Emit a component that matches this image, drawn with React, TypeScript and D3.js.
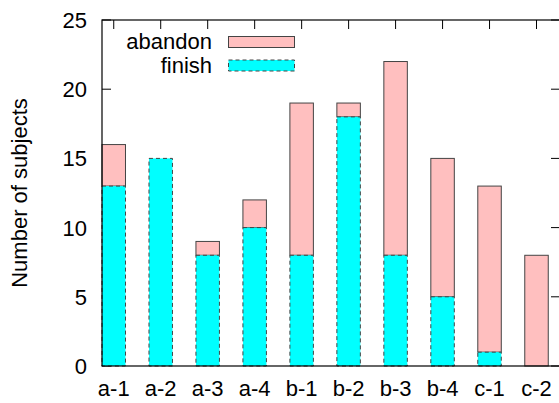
import React from "react";
import * as d3 from "d3";

const categories = ["a-1", "a-2", "a-3", "a-4", "b-1", "b-2", "b-3", "b-4", "c-1", "c-2"];
const finishValues = [13, 15, 8, 10, 8, 18, 8, 5, 1, 0];
const abandonValues = [3, 0, 1, 2, 11, 1, 14, 10, 12, 8];
const yTicks = [0, 5, 10, 15, 20, 25];
const seriesNames = ["abandon", "finish"];

const W = 559;
const H = 403;
const left = 102;
const right = 560;
const top = 20;
const bottom = 366;
const FONT = "'Liberation Sans', Arial, Helvetica, sans-serif";
const PINK = "#ffbfbf";
const CYAN = "#00ffff";
const EDGE = "#444444";

export default function App() {
  const x = d3.scaleLinear().domain([-0.25, 9.5]).range([left, right]);
  const y = d3.scaleLinear().domain([0, 25]).range([bottom, top]);
  const bw = x(0.5) - x(0);
  const tickLen = 9;

  return (
    <svg
      width={W}
      height={H}
      style={{ position: "absolute", left: 0, top: 0, background: "#fff" }}
      fontFamily={FONT}
    >
      {/* ticks */}
      {yTicks.map((t) => (
        <g key={"yt" + t}>
          <line x1={left} x2={left + tickLen} y1={y(t)} y2={y(t)} stroke="#000" strokeWidth={1} />
          <line x1={right - tickLen} x2={right} y1={y(t)} y2={y(t)} stroke="#000" strokeWidth={1} />
          <text x={87} y={y(t)} dy="0.36em" textAnchor="end" fontSize={22} fill="#000">
            {t}
          </text>
        </g>
      ))}
      {categories.map((c, i) => (
        <g key={"xt" + c}>
          <line x1={x(i)} x2={x(i)} y1={top} y2={top + tickLen} stroke="#000" strokeWidth={1} />
          <line x1={x(i)} x2={x(i)} y1={bottom} y2={bottom - tickLen} stroke="#000" strokeWidth={1} />
          <text x={x(i)} y={396} textAnchor="middle" fontSize={22} fill="#000">
            {c}
          </text>
        </g>
      ))}

      {/* bars: abandon first, then finish */}
      {categories.map((c, i) => {
        const f = finishValues[i];
        const a = abandonValues[i];
        if (a <= 0) return null;
        return (
          <rect
            key={"ab" + c}
            x={x(i) - bw / 2}
            y={y(f + a)}
            width={bw}
            height={y(f) - y(f + a)}
            fill={PINK}
            stroke={EDGE}
            strokeWidth={1}
          />
        );
      })}
      {categories.map((c, i) => {
        const f = finishValues[i];
        if (f <= 0) return null;
        return (
          <rect
            key={"fi" + c}
            x={x(i) - bw / 2}
            y={y(f)}
            width={bw}
            height={y(0) - y(f)}
            fill={CYAN}
            stroke={EDGE}
            strokeWidth={1}
            strokeDasharray="4,3"
          />
        );
      })}

      {/* legend */}
      {seriesNames.map((s, k) => (
        <g key={"lg" + s}>
          <text x={212} y={49 + k * 24} textAnchor="end" fontSize={22} fill="#000">
            {s}
          </text>
          <rect
            x={228.5}
            y={36.5 + k * 23.5}
            width={66}
            height={11}
            fill={k === 0 ? PINK : CYAN}
            stroke={EDGE}
            strokeWidth={1}
            strokeDasharray={k === 0 ? undefined : "4,3"}
          />
        </g>
      ))}

      {/* border */}
      <rect x={left} y={top} width={right - left} height={bottom - top} fill="none" stroke="#000" strokeWidth={1.2} />

      {/* y label */}
      <text
        transform={`translate(27,${(top + bottom) / 2}) rotate(-90)`}
        textAnchor="middle"
        fontSize={22}
        fill="#000"
      >
        Number of subjects
      </text>
    </svg>
  );
}
